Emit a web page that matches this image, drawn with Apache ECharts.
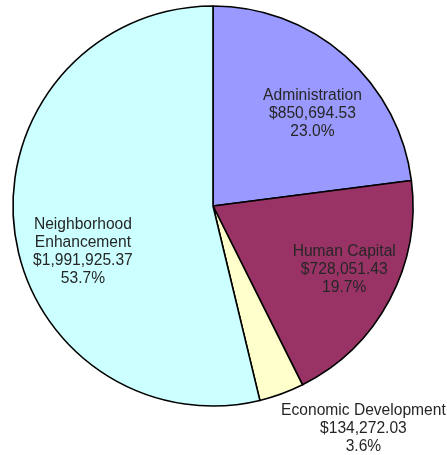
<!DOCTYPE html>
<html><head><meta charset="utf-8">
<script src="https://cdn.jsdelivr.net/npm/echarts@6/dist/echarts.min.js"></script>
<style>html,body{margin:0;padding:0;background:#fff}#c{width:447px;height:455px}</style>
</head><body><div id="c"></div>
<script>
const categories = ["Administration", "Human Capital", "Economic Development", "Neighborhood Enhancement"];
const labelNames = ["Administration", "Human Capital", "Economic Development", "Neighborhood\nEnhancement"];
const values = [850694.53, 728051.43, 134272.03, 1991925.37];
const valueLabels = ["$850,694.53", "$728,051.43", "$134,272.03", "$1,991,925.37"];
const percentLabels = ["23.0%", "19.7%", "3.6%", "53.7%"];
const colors = ["#9999FF", "#993366", "#FFFFCC", "#CCFFFF"];

// layout/style (not data)
const CX = 213, CY = 206, R = 200;
const labelPolar = [[47, 0.68], [116, 0.73], [146, 1.345], [250.5, 0.69]];

const chart = echarts.init(document.getElementById('c'));
chart.setOption({
  animation: false,
  series: [{
    type: 'pie',
    center: [CX, CY],
    radius: [0, R],
    startAngle: 90,
    clockwise: true,
    avoidLabelOverlap: false,
    data: categories.map((c, i) => ({ name: c, value: values[i], itemStyle: { color: colors[i] } })),
    itemStyle: { borderColor: '#000', borderWidth: 1.6 },
    label: {
      show: true,
      position: 'inside',
      color: '#262626',
      fontFamily: 'Liberation Sans, Arial, sans-serif',
      fontSize: 15.6,
      lineHeight: 18,
      align: 'center',
      formatter: p => labelNames[p.dataIndex] + '\n' + valueLabels[p.dataIndex] + '\n' + percentLabels[p.dataIndex]
    },
    labelLine: { show: false },
    emphasis: { disabled: true },
    labelLayout: function (p) {
      const lp = labelPolar[p.dataIndex];
      const a = lp[0] * Math.PI / 180;
      return {
        x: CX + Math.sin(a) * R * lp[1],
        y: CY - Math.cos(a) * R * lp[1],
        align: 'center',
        verticalAlign: 'middle'
      };
    }
  }]
});
</script></body></html>
